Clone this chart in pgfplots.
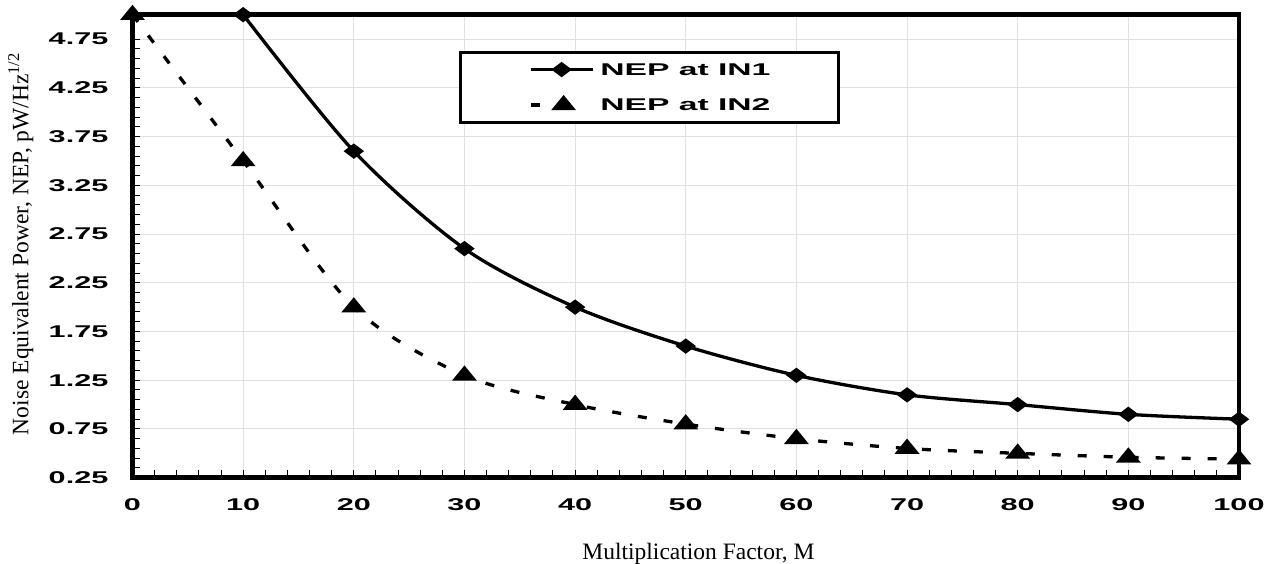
\documentclass[border=0pt]{standalone}
\usepackage{fontspec}
\setmainfont{Liberation Serif}
\newfontfamily\tickfont[FakeStretch=1.8]{Liberation Sans}
\newfontfamily\legfont[FakeStretch=1.98]{Liberation Sans}
\usepackage{pgfplots}
\pgfplotsset{compat=1.18}
\pgfplotsset{shortleg/.style={legend image code/.code={\draw[mark repeat=2,mark phase=2,##1] plot coordinates {(0pt,0pt)(33pt,0pt)(44pt,0pt)};}}}
\begin{document}
\begin{tikzpicture}
\begin{axis}[
  scale only axis,
  width=1106.5pt, height=463pt,
  xmin=0, xmax=100, ymin=0.25, ymax=5,
  clip=false,
  axis line style={line width=4.5pt, line join=miter},
  xtick={0,10,...,100},
  ytick={0.25,0.75,...,4.75},
  minor x tick num=4,
  minor y tick num=4,
  tick align=inside,
  xtick pos=bottom, ytick pos=left,
  major tick length=8pt, minor tick length=8pt,
  tick style={line width=1pt, black},
  grid=major,
  major grid style={line width=1pt, color=black!12},
  /pgf/number format/assume math mode=true,
  ticklabel style={font=\fontsize{17}{17}\selectfont\tickfont\bfseries},
  yticklabel style={/pgf/number format/fixed, /pgf/number format/fixed zerofill, /pgf/number format/precision=2},
  yticklabel style={anchor=east, inner sep=0pt, xshift=-24pt},
  xticklabel style={anchor=north, inner sep=0pt, yshift=-21pt},
  every axis x label/.style={at={(axis description cs:0.5115,0)}, anchor=base, yshift=-81.3pt, font=\fontsize{23.5}{23.5}\selectfont},
  every axis y label/.style={at={(axis description cs:-0.0942,0.5048)}, rotate=90, anchor=base, font=\fontsize{23.5}{23.5}\selectfont},
  xlabel={Multiplication Factor, M},
  ylabel={Noise Equivalent Power, NEP, pW/Hz\textsuperscript{1/2}},
  legend image code/.code={\draw[mark repeat=2,mark phase=2,#1] plot coordinates {(0pt,0pt)(31pt,0pt)(62pt,0pt)};},
  legend style={at={(rel axis cs:0.2955,0.9225)}, anchor=north west,
    draw=black, line width=3pt, inner xsep=68pt, inner ysep=11.5pt,
    font=\fontsize{17}{17}\selectfont\legfont\bfseries,
    nodes={inner sep=0pt, text height=12pt, text depth=0pt},
    row sep=22pt, column sep=6pt},
  legend cell align=left,
]
\addplot[black, line width=3.3pt, smooth, mark=diamond*, mark size=7.5pt, mark options={rotate=90, solid, fill=black}]
  coordinates {(10,5.0)(20,3.6)(30,2.6)(40,2.0)(50,1.6)(60,1.3)(70,1.1)(80,1.0)(90,0.9)(100,0.85)};
\addlegendentry{NEP at IN1}
\addplot[black, line width=3.3pt, smooth, dash pattern=on 9pt off 17pt, mark=triangle*, mark size=7.3pt, mark options={xscale=1.42, solid, fill=black}, shortleg]
  coordinates {(0,5.0)(10,3.5)(20,2.0)(30,1.3)(40,1.0)(50,0.8)(60,0.65)(70,0.55)(80,0.5)(90,0.46)(100,0.44)};
\addlegendentry{NEP at IN2}
\end{axis}
\pgfresetboundingbox
\path (-132.5pt,-86.3pt) rectangle (1132.5pt,477.7pt);
\end{tikzpicture}
\end{document}
